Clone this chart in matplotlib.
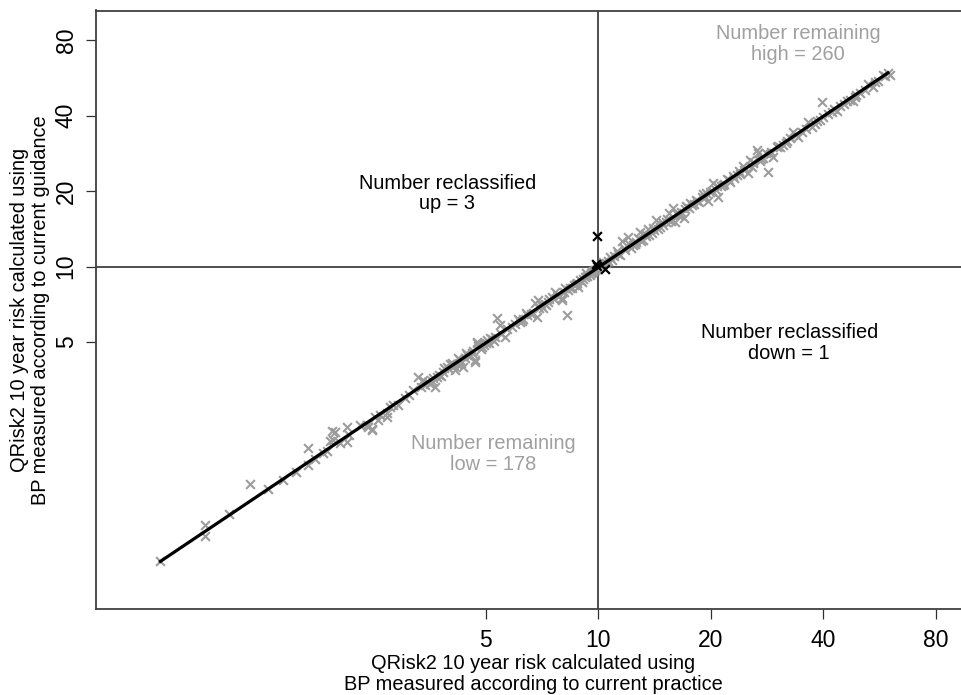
import matplotlib
matplotlib.use("Agg")
import matplotlib.pyplot as plt
from matplotlib.ticker import FixedLocator, FixedFormatter, NullLocator

plt.rcParams['font.family'] = ['Liberation Sans', 'DejaVu Sans']

# ---- data ----
remain_x = [0.675, 0.89, 0.89, 1.03, 1.17, 1.31, 1.44, 1.56, 1.67, 1.67, 1.75, 1.84, 1.88, 1.92,
            1.94, 1.98, 2.04, 1.95, 2.13, 2.13, 2.16, 2.30, 2.41, 2.42, 2.48, 2.48, 2.53, 2.57,
            2.61, 2.72, 2.73, 2.78, 2.83, 2.91, 3.05, 3.12, 3.20, 3.30, 3.36, 3.44, 3.50, 3.59,
            3.65, 3.70, 3.76, 3.85, 3.94, 4.00, 4.06, 4.09, 4.14, 4.20, 4.27, 4.35, 4.40, 4.46,
            4.52, 4.59, 4.68, 4.68, 4.74, 4.75, 4.77, 4.85, 4.95, 5.04, 5.10, 5.20, 5.30, 5.36,
            5.46, 5.50, 5.64, 5.70, 5.88, 6.00, 6.18, 6.30, 6.45, 6.60, 6.77, 6.86, 6.91, 6.95,
            7.11, 7.20, 7.35, 7.52, 7.67, 7.75, 7.85, 8.00, 8.00, 8.10, 8.25, 8.30, 8.50, 8.60,
            8.77, 8.82, 8.95, 9.04, 9.20, 9.35, 9.50, 9.65, 9.80,
            3.40, 3.55, 3.62, 3.80, 3.88, 4.02, 4.12, 4.22, 4.30, 4.42, 4.55, 4.62, 4.80, 4.90,
            5.00, 5.15, 5.25, 6.10, 6.25, 6.40, 6.70, 7.05, 7.25, 7.40, 7.60, 8.15, 8.40, 8.70,
            9.10, 9.30, 9.55, 9.70, 9.90,
            10.2, 10.5, 10.75, 10.9, 11.2, 11.4, 11.6, 11.8, 12.0, 12.2, 12.4, 12.6, 12.9, 13.0,
            13.2, 13.4, 13.6, 13.9, 14.1, 14.3, 14.6, 14.9, 15.2, 15.5, 15.8, 16.0, 16.3, 16.6,
            17.0, 17.2, 17.5, 17.8, 18.3, 18.6, 19.0, 19.3, 19.6, 19.9, 20.3, 20.6, 20.9, 21.3,
            21.7, 22.1, 22.5, 22.9, 23.5, 24.0, 24.4, 25.2, 25.4, 25.7, 26.0, 26.5, 26.7, 27.0,
            27.6, 28.4, 28.8, 29.4, 30.0, 30.6, 31.2, 31.8, 32.5, 33.2, 34.2, 35.0, 36.3, 37.2,
            38.0, 39.1, 39.6, 41.1, 42.2, 43.4, 44.2, 45.5, 47.0, 48.0, 48.5, 50.2, 52.6, 54.2,
            56.0, 57.6, 59.5, 60.2,
            10.3, 10.6, 11.0, 11.3, 11.7, 12.1, 12.5, 12.8, 13.3, 13.7, 14.0, 14.4, 14.8, 15.3,
            15.6, 16.1, 16.5, 17.1, 17.6, 18.0, 18.4, 18.9, 19.4, 20.1, 20.8, 21.5, 22.3, 23.0,
            23.8, 24.6, 25.9, 27.3, 28.0, 29.0, 30.3, 32.0, 33.8, 36.0, 38.5, 40.0, 42.8, 46.2,
            49.0, 51.5, 55.0, 58.5]
remain_y = [0.666, 0.93, 0.84, 1.03, 1.36, 1.30, 1.41, 1.52, 1.62, 1.89, 1.70, 1.81, 1.83, 2.02,
            2.21, 2.18, 1.98, 2.04, 2.28, 2.00, 2.12, 2.34, 2.34, 2.30, 2.25, 2.23, 2.50, 2.45,
            2.56, 2.52, 2.60, 2.74, 2.81, 2.81, 2.98, 3.08, 3.23, 3.64, 3.30, 3.38, 3.46, 3.48,
            3.32, 3.64, 3.70, 3.78, 3.99, 3.90, 4.14, 4.06, 3.88, 4.10, 4.25, 3.99, 4.32, 4.45,
            4.40, 4.53, 4.25, 4.18, 5.02, 4.97, 4.80, 4.70, 4.88, 5.11, 4.95, 5.12, 5.25, 6.26,
            5.87, 5.40, 5.26, 5.62, 5.76, 5.90, 6.03, 6.20, 6.40, 6.48, 7.18, 6.32, 7.38, 6.85,
            6.86, 7.10, 7.25, 7.59, 7.95, 7.73, 7.60, 7.52, 7.38, 7.95, 6.43, 8.10, 8.24, 8.45,
            8.63, 8.32, 8.80, 8.71, 9.05, 9.20, 9.29, 9.50, 9.73,
            3.52, 3.40, 3.58, 3.65, 3.95, 4.10, 4.00, 4.30, 4.12, 4.50, 4.38, 4.60, 4.90, 4.78,
            4.95, 5.20, 5.05, 6.15, 6.05, 6.55, 6.55, 7.05, 7.00, 7.45, 7.40, 8.20, 8.20, 8.55,
            8.95, 9.40, 9.45, 9.60, 9.80,
            10.1, 10.35, 10.9, 10.6, 11.5, 11.1, 12.6, 11.6, 13.1, 11.9, 12.2, 12.5, 13.8, 12.7,
            12.8, 13.3, 14.1, 13.6, 14.0, 15.4, 14.4, 14.6, 15.0, 16.4, 17.2, 15.1, 16.0, 16.5,
            15.7, 17.4, 17.1, 17.6, 18.5, 18.1, 19.4, 18.9, 18.2, 19.9, 21.6, 20.2, 19.0, 21.0,
            21.4, 22.3, 21.8, 22.9, 23.3, 23.5, 25.1, 23.7, 26.7, 25.0, 26.0, 29.3, 28.5, 26.3,
            27.2, 23.9, 28.2, 27.5, 29.9, 30.0, 30.7, 31.2, 32.7, 34.3, 33.0, 34.6, 37.9, 36.2,
            37.2, 38.6, 45.2, 40.5, 41.3, 41.6, 43.6, 44.6, 46.4, 46.0, 47.7, 49.5, 53.3, 52.3,
            55.2, 58.4, 59.3, 58.0,
            10.4, 10.5, 11.0, 11.2, 11.9, 12.3, 12.3, 13.0, 13.5, 13.4, 14.3, 14.1, 15.0, 15.5,
            15.2, 16.4, 16.1, 16.9, 17.9, 17.7, 18.2, 19.0, 19.6, 20.0, 20.9, 21.2, 22.1, 22.6,
            24.0, 24.3, 26.2, 27.0, 28.3, 28.6, 30.4, 31.6, 33.5, 35.4, 38.1, 39.6, 42.5, 45.6,
            48.6, 50.8, 54.5, 57.8]

reclass_x = [9.92, 9.88, 9.95, 10.4]
reclass_y = [13.2, 10.2, 10.1, 9.75]

fit_x = [0.675, 59.5]
fit_y = [0.666, 59.3]

tick_vals = [5, 10, 20, 40, 80]
tick_labels = ["5", "10", "20", "40", "80"]
threshold = 10

notes = [
    ("Number reclassified\nup = 3", 3.95, 19.6, "black"),
    ("Number remaining\nhigh = 260", 34.2, 77.5, "#a0a0a0"),
    ("Number reclassified\ndown = 1", 32.4, 4.95, "black"),
    ("Number remaining\nlow = 178", 5.23, 1.79, "#a0a0a0"),
]

xlabel = "QRisk2 10 year risk calculated using\nBP measured according to current practice"
ylabel = "QRisk2 10 year risk calculated using\nBP measured according to current guidance"

# ---- figure ----
fig = plt.figure(figsize=(9.61, 6.95), dpi=100)
ax = fig.add_axes([96/961, 1 - 609/695, 874/961, 598.5/695])
ax.set_xscale('log', base=2)
ax.set_yscale('log', base=2)
ax.set_xlim(0.454, 98.6)
ax.set_ylim(0.43, 105.2)

ax.axvline(threshold, color='#303030', lw=1.2, zorder=1)
ax.axhline(threshold, color='#303030', lw=1.2, zorder=1)

ax.scatter(remain_x, remain_y, marker='x', s=40, color='#9c9c9c', linewidths=1.5, zorder=2)
ax.plot(fit_x, fit_y, color='black', lw=2.3, zorder=3)
ax.scatter(reclass_x, reclass_y, marker='x', s=40, color='black', linewidths=1.6, zorder=4)

for txt, x, y, c in notes:
    ax.text(x, y, txt, ha='center', va='center', fontsize=14.4, color=c,
            linespacing=1.1, zorder=5)

for axis in (ax.xaxis, ax.yaxis):
    axis.set_major_locator(FixedLocator(tick_vals))
    axis.set_major_formatter(FixedFormatter(tick_labels))
    axis.set_minor_locator(NullLocator())

ax.tick_params(axis='both', direction='out', length=7.2, width=0.9, color='#303030',
               labelsize=16.5)
ax.tick_params(axis='x', pad=7)
ax.tick_params(axis='y', pad=6)
for lab in ax.get_yticklabels():
    lab.set_rotation(90)
    lab.set_va('center')

for side in ('left', 'bottom', 'top'):
    ax.spines[side].set_color('#404040')
    ax.spines[side].set_linewidth(1.3)
ax.spines['right'].set_visible(False)

fig.text(533/961, 1 - 674/695, xlabel, ha='center', va='center', fontsize=14.4,
         linespacing=1.1)
fig.text(30/961, 1 - 310/695, ylabel, ha='center', va='center', fontsize=14.4,
         rotation=90, linespacing=1.1)

fig.savefig("out.png", dpi=100)
